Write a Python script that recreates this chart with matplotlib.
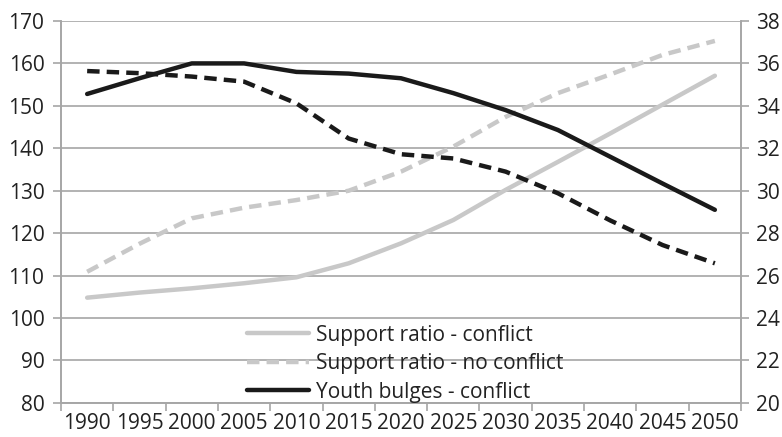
import matplotlib.pyplot as plt

plt.rcParams['font.family'] = ['Open Sans', 'DejaVu Sans']

years = ['1990', '1995', '2000', '2005', '2010', '2015', '2020',
         '2025', '2030', '2035', '2040', '2045', '2050']

# eje izquierdo
support_conflict = [104.8, 106.0, 107.0, 108.2, 109.6, 112.9, 117.6,
                    123.1, 130.2, 136.8, 143.5, 150.3, 157.1]
support_no_conflict = [110.9, 117.5, 123.5, 126.0, 127.8, 130.0, 134.5,
                       140.4, 147.4, 153.0, 157.4, 162.0, 165.3]
# eje derecho
youth_conflict = [34.56, 35.3, 36.0, 36.0, 35.6, 35.52, 35.3,
                  34.6, 33.8, 32.86, 31.6, 30.34, 29.1]
youth_no_conflict = [35.64, 35.54, 35.38, 35.14, 34.12, 32.46, 31.72,
                     31.52, 30.9, 29.88, 28.6, 27.44, 26.58]

gris = '#c8c8c8'
negro = '#1a1a1a'
grid_col = '#a6a6a6'
texto = '#222222'

fig, ax = plt.subplots(figsize=(7.82, 4.37), dpi=100)
fig.subplots_adjust(left=0.078, right=0.9476, top=0.952, bottom=0.078)
ax2 = ax.twinx()

x = list(range(len(years)))
l1, = ax.plot(x, support_conflict, color=gris, lw=3.2, solid_capstyle='round',
              label='Support ratio - conflict')
l2, = ax.plot(x, support_no_conflict, color=gris, lw=3.2, dashes=(2.8, 1.6),
              label='Support ratio - no conflict')
l3, = ax2.plot(x, youth_conflict, color=negro, lw=3.2, solid_capstyle='round',
               label='Youth bulges - conflict')
ax2.plot(x, youth_no_conflict, color=negro, lw=3.2, dashes=(2.8, 1.6))

ax.set_xlim(-0.5, 12.5)
ax.set_ylim(80, 170)
ax2.set_ylim(20, 38)
ax.set_yticks(range(80, 171, 10))
ax2.set_yticks(range(20, 39, 2))

ax.set_xticks(x)
ax.set_xticklabels(years)
ax.set_xticks([i - 0.5 for i in range(len(years) + 1)], minor=True)
ax.tick_params(axis='x', which='major', length=0, pad=7)
ax.tick_params(axis='x', which='minor', length=6, width=1.2, color=grid_col)
ax.tick_params(axis='y', length=6, width=1.2, color=grid_col, pad=6)
ax2.tick_params(axis='y', length=6, width=1.2, color=grid_col, pad=5)
for a in (ax, ax2):
    a.tick_params(labelsize=15, labelcolor=texto)

ax.yaxis.grid(True, color=grid_col, lw=1.2)
ax.set_axisbelow(True)

for a in (ax, ax2):
    a.spines['top'].set_visible(False)
    for s in ('left', 'right', 'bottom'):
        a.spines[s].set_color(grid_col)
        a.spines[s].set_linewidth(1.2)

ax2.legend(handles=[l1, l2, l3], frameon=False, fontsize=15,
           loc='upper left', bbox_to_anchor=(0.2735, 0.205),
           handlelength=3.0, handletextpad=0.3, labelspacing=0.36,
           borderaxespad=0, borderpad=0, labelcolor=texto)

fig.savefig('out.png')
plt.close(fig)
